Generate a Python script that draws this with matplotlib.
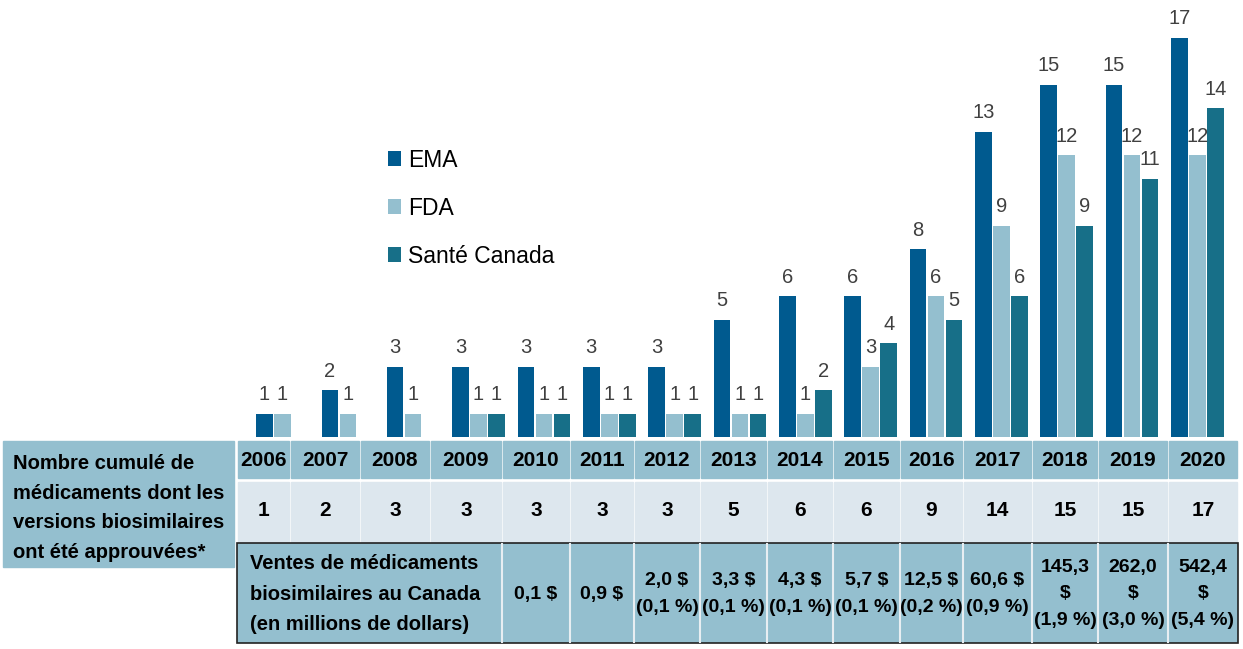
import matplotlib
matplotlib.use("Agg")
import matplotlib.pyplot as plt
from matplotlib.patches import Rectangle
import numpy as np

plt.rcParams['font.family'] = ['Liberation Sans', 'DejaVu Sans']

years = [str(y) for y in range(2006, 2021)]
ema = [1, 2, 3, 3, 3, 3, 3, 5, 6, 6, 8, 13, 15, 15, 17]
fda = [1, 1, 1, 1, 1, 1, 1, 1, 1, 3, 6, 9, 12, 12, 12]
sante = [0, 0, 0, 1, 1, 1, 1, 1, 2, 4, 5, 6, 9, 11, 14]
cumul = [1, 2, 3, 3, 3, 3, 3, 5, 6, 6, 9, 14, 15, 15, 17]
ventes = ["", "", "", "", "0,1 $", "0,9 $", "2,0 $\n(0,1 %)", "3,3 $\n(0,1 %)",
          "4,3 $\n(0,1 %)", "5,7 $\n(0,1 %)", "12,5 $\n(0,2 %)", "60,6 $\n(0,9 %)",
          "145,3\n$\n(1,9 %)", "262,0\n$\n(3,0 %)", "542,4\n$\n(5,4 %)"]
series = [("EMA", ema, "#005a8f"), ("FDA", fda, "#94bfcf"), ("Santé Canada", sante, "#176f88")]

label_cumul = "Nombre cumulé de\nmédicaments dont les\nversions biosimilaires\nont été approuvées*"
label_ventes = "Ventes de médicaments\nbiosimilaires au Canada\n(en millions de dollars)"

W, H = 1243, 649
fig = plt.figure(figsize=(W / 100, H / 100), dpi=100)

# bar axes: baseline at y=437 px, 23.5 px per unit, groups 65.35 px apart
step, x0, base, unit = 65.35, 282.5, 437, 23.5
ax = fig.add_axes([0, (H - base) / H, 1, 18 * unit / H])
ax.set_xlim(-x0 / step, (W - x0) / step)
ax.set_ylim(0, 18)
ax.axis("off")

x = np.arange(len(years))
off, bw = 18 / step, 16.5 / step
handles = []
for k, (name, vals, col) in enumerate(series):
    b = ax.bar(x + (k - 1) * off, vals, bw, color=col, label=name)
    handles.append(b)
    for xi, v in zip(x, vals):
        if v:
            ax.text(xi + (k - 1) * off, v + 0.4, str(v), ha="center", va="bottom",
                    fontsize=14.5, color="#404040")

ax.legend(handles=handles, loc="upper left", bbox_to_anchor=(367 / W, 1 - 128 / H),
          bbox_transform=fig.transFigure, frameon=False, fontsize=16.5,
          handlelength=0.6, handleheight=0.6, handletextpad=0.3, labelspacing=1.09)

# table drawn in pixel coords
tb = fig.add_axes([0, 0, 1, 1])
tb.set_xlim(0, W)
tb.set_ylim(H, 0)
tb.axis("off")
tb.set_zorder(-1)

head_col = "#94bfcf"
light_col = "#dde7ee"
edges = [237, 290, 360, 430, 502, 570, 634, 700, 767, 833, 900, 963, 1032, 1098, 1168, 1238]

# left label box
tb.add_patch(Rectangle((3, 441), 231, 126, color=head_col))
tb.text(13, 508, label_cumul, ha="left", va="center", fontsize=14.5, fontweight="bold",
        linespacing=1.7, color="black")

for i, yr in enumerate(years):
    l, r = edges[i], edges[i + 1]
    tb.add_patch(Rectangle((l + 1, 441), r - l - 2, 37, color=head_col))
    tb.text((l + r) / 2, 461, yr, ha="center", va="center", fontsize=15, fontweight="bold")
    tb.add_patch(Rectangle((l + 1, 482), r - l - 2, 62, color=light_col))
    tb.text((l + r) / 2, 510, str(cumul[i]), ha="center", va="center", fontsize=15,
            fontweight="bold")

# sales row
tb.add_patch(Rectangle((237, 543), 1001, 100, facecolor=head_col, edgecolor="#222222", lw=1.2))
tb.text(250, 594, label_ventes, ha="left", va="center", fontsize=14.5, fontweight="bold",
        linespacing=1.75)
for i in range(4, len(years)):
    l, r = edges[i], edges[i + 1]
    tb.plot([l, l], [544, 642], color="#e8eef2", lw=1.5)
    tb.text((l + r) / 2, 594, ventes[i], ha="center", va="center", fontsize=14,
            fontweight="bold", linespacing=1.75)

fig.savefig("out.png", dpi=100)
